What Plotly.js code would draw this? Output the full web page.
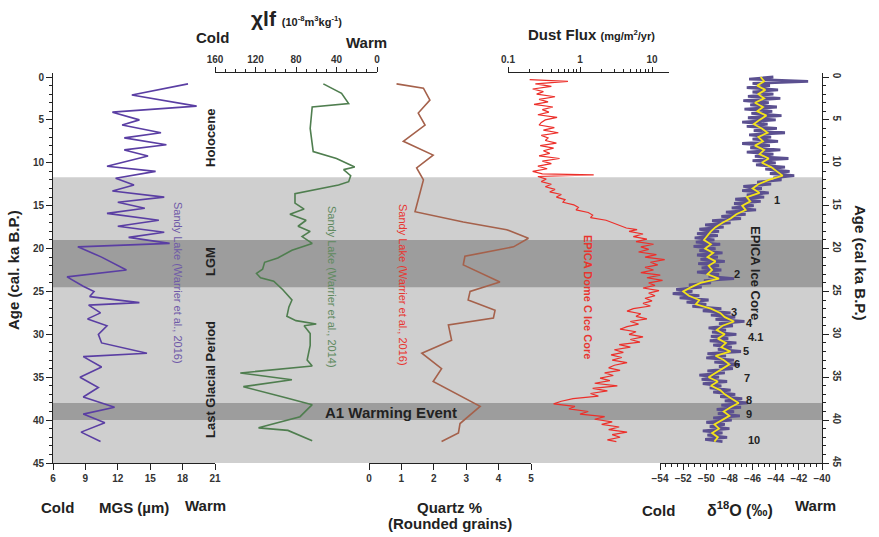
<!DOCTYPE html>
<html><head><meta charset="utf-8">
<script src="https://cdn.plot.ly/plotly-3.0.1.min.js"></script>
<style>html,body{margin:0;padding:0;background:#fff;} #chart{width:879px;height:537px;}</style>
</head><body><div id="chart"></div>
<script>
// ---------- DATA ----------
// Mean grain size (MGS, µm), Sandy Lake (Warrier et al., 2016)
const mgsAge = [0.8,2.1,3.4,4.1,5.0,5.6,6.5,7.1,7.9,8.5,9.2,10.4,11.0,11.8,12.6,13.3,14.0,14.6,15.3,15.9,16.7,17.4,18.1,18.7,19.4,19.8,21.0,22.5,23.3,24.4,25.0,25.6,26.3,26.6,27.5,28.2,29.0,30.0,31.0,32.2,32.6,33.8,35.0,36.2,37.3,38.5,39.3,40.3,41.4,42.5];
const mgs    = [18.5,13.3,19.3,11.5,14.0,12.4,16.0,12.6,16.5,12.6,14.8,11.0,15.5,11.8,13.5,11.5,16.3,12.0,14.5,11.0,15.8,12.0,16.3,13.0,16.8,8.3,10.5,12.8,7.3,8.8,9.8,9.4,14.0,9.3,10.4,9.2,11.0,10.2,10.5,14.7,8.8,10.5,8.5,10.2,8.8,11.7,8.8,10.8,8.6,10.4];

// Magnetic susceptibility chi-lf, Sandy Lake (Warrier et al., 2014)
const chiAge = [0.8,1.9,3.1,3.5,6.0,8.7,9.5,10.5,10.8,11.5,12.2,12.6,13.6,14.7,15.4,16.0,16.7,17.4,18.0,18.6,19.4,20.2,21.1,21.6,22.4,22.9,23.4,23.8,24.8,26.0,26.8,27.9,28.4,28.8,29.0,29.9,31.3,33.0,33.7,34.5,35.3,36.1,37.4,38.2,39.6,40.9,41.2,42.4];
const chi    = [53,35,28,64,66,63,40,22,33,26,28,38,81,81,72,86,70,78,66,74,64,84,98,111,113,119,115,102,93,84,87,89,80,60,72,66,66,69,64,135,84,132,90,64,76,117,88,64];

// Quartz % (rounded grains), Sandy Lake (Warrier et al., 2016)
const qAge = [0.8,1.3,2.7,4.2,5.6,7.5,9.1,10.6,12.0,15.7,16.9,17.8,18.8,19.8,20.9,21.9,23.9,25.0,26.0,27.2,28.1,28.9,30.7,32.2,34.0,35.5,38.4,40.4,41.5,42.5];
const quartz = [0.85,1.68,1.88,1.52,1.73,1.06,1.98,1.47,1.68,1.42,2.91,4.25,4.92,4.46,2.96,2.91,4.04,3.12,3.06,3.89,3.84,2.45,2.55,1.63,2.24,1.98,3.43,2.81,2.76,2.24];

// Dust flux (mg/m2/yr), EPICA Dome C
const dustAge = [0.3,0.5,0.8,1.1,1.4,1.7,2.0,2.3,2.6,2.9,3.2,3.5,3.8,4.1,4.4,4.7,5.0,5.3,5.6,5.9,6.2,6.5,6.8,7.1,7.4,7.7,8.0,8.3,8.6,8.9,9.2,9.5,9.8,10.1,10.4,10.7,11.0,11.3,11.4,11.6,11.9,12.2,12.5,12.8,13.1,13.4,13.7,14.0,14.3,14.6,14.9,15.2,15.5,15.8,16.1,16.4,16.7,17.0,17.3,17.6,17.8,18.0,18.3,18.6,18.9,19.2,19.5,19.8,20.1,20.4,20.7,21.0,21.3,21.6,21.9,22.2,22.5,22.8,23.1,23.4,23.7,24.0,24.3,24.6,24.9,25.2,25.5,25.8,26.1,26.4,26.7,27.0,27.3,27.6,27.9,28.2,28.5,28.8,29.1,29.4,29.7,30.0,30.3,30.6,30.9,31.2,31.5,31.8,32.1,32.4,32.7,33.0,33.3,33.6,33.9,34.2,34.5,34.8,35.1,35.4,35.7,36.0,36.3,36.6,36.9,37.2,37.5,37.8,38.1,38.4,38.7,39.0,39.3,39.6,39.9,40.2,40.5,40.8,41.1,41.4,41.7,42.0,42.3,42.5];
const dust    = [0.20,0.68,0.24,0.40,0.22,0.31,0.25,0.45,0.27,0.36,0.23,0.42,0.30,0.37,0.26,0.48,0.33,0.29,0.27,0.44,0.31,0.50,0.29,0.36,0.33,0.47,0.28,0.43,0.31,0.38,0.27,0.52,0.30,0.40,0.26,0.35,0.22,0.30,1.55,0.26,0.34,0.29,0.40,0.33,0.45,0.38,0.55,0.47,0.62,0.58,0.82,0.95,0.88,1.3,1.5,1.4,2.3,2.8,3.5,4.4,6.2,4.8,7.5,5.5,8.5,6.0,10.5,7.0,9.0,6.5,11.5,8.0,15.0,9.5,12.0,8.0,10.5,7.0,13.0,8.5,14.0,9.0,11.0,7.5,12.5,9.0,11.0,8.0,10.0,7.5,9.5,5.5,4.5,7.0,6.0,8.5,5.0,6.5,4.5,3.6,6.0,4.8,7.5,5.0,6.8,3.5,5.0,3.0,4.0,2.7,3.8,2.8,4.5,3.0,2.5,3.6,2.2,2.9,1.9,2.6,1.6,3.3,1.5,2.4,1.4,1.8,0.8,0.55,0.43,0.85,0.7,1.3,1.0,2.2,1.6,2.8,2.0,3.5,2.5,4.5,2.8,3.6,2.4,3.2];

// EPICA ice core d18O (permil): raw (purple) and smoothed (yellow)
const d18oRawAge = [0,0.25,0.5,0.75,1,1.25,1.5,1.75,2,2.25,2.5,2.75,3,3.25,3.5,3.75,4,4.25,4.5,4.75,5,5.25,5.5,5.75,6,6.25,6.5,6.75,7,7.25,7.5,7.75,8,8.25,8.5,8.75,9,9.25,9.5,9.75,10,10.25,10.5,10.75,11,11.25,11.5,11.75,12,12.25,12.5,12.75,13,13.25,13.5,13.75,14,14.25,14.5,14.75,15,15.25,15.5,15.75,16,16.25,16.5,16.75,17,17.25,17.5,17.75,18,18.25,18.5,18.75,19,19.25,19.5,19.75,20,20.25,20.5,20.75,21,21.25,21.5,21.75,22,22.25,22.5,22.75,23,23.25,23.5,23.75,24,24.25,24.5,24.75,25,25.25,25.5,25.75,26,26.25,26.5,26.75,27,27.25,27.5,27.75,28,28.25,28.5,28.75,29,29.25,29.5,29.75,30,30.25,30.5,30.75,31,31.25,31.5,31.75,32,32.25,32.5,32.75,33,33.25,33.5,33.75,34,34.25,34.5,34.75,35,35.25,35.5,35.75,36,36.25,36.5,36.75,37,37.25,37.5,37.75,38,38.25,38.5,38.75,39,39.25,39.5,39.75,40,40.25,40.5,40.75,41,41.25,41.5,41.75,42,42.25,42.5];
const d18oRaw = [-44.2,-46.3,-41.2,-46.0,-44.5,-46.5,-43.8,-46.0,-44.2,-46.4,-43.6,-46.8,-44.6,-46.2,-43.9,-46.7,-44.3,-46.1,-43.5,-46.4,-44.0,-46.9,-44.7,-46.5,-43.9,-45.9,-43.2,-46.3,-44.4,-46.0,-43.8,-46.9,-44.5,-46.2,-43.6,-46.5,-44.2,-45.8,-42.9,-46.0,-44.0,-45.7,-43.2,-44.9,-42.8,-44.5,-42.4,-44.2,-43.5,-45.6,-44.4,-46.8,-45.2,-46.9,-44.6,-46.5,-45.0,-47.5,-45.3,-47.6,-45.9,-47.8,-45.7,-48.3,-46.6,-48.7,-47.0,-49.5,-47.9,-50.1,-48.5,-50.6,-48.9,-50.8,-49.0,-51.0,-49.3,-50.9,-48.8,-51.1,-49.2,-50.6,-48.6,-50.8,-49.0,-50.5,-48.4,-50.7,-48.9,-50.4,-48.7,-50.8,-48.9,-49.8,-47.6,-50.2,-49.6,-51.5,-50.4,-52.6,-51.2,-52.9,-50.6,-52.3,-49.8,-51.7,-50.0,-51.2,-48.7,-50.3,-47.9,-49.6,-47.5,-49.2,-46.7,-48.9,-47.7,-49.8,-48.3,-49.5,-47.4,-49.6,-48.1,-49.7,-47.4,-49.4,-47.8,-49.0,-47.0,-49.9,-48.3,-50.0,-47.6,-49.3,-47.1,-48.9,-47.7,-49.9,-48.4,-50.6,-48.9,-50.4,-48.2,-50.3,-48.7,-49.7,-47.9,-49.4,-47.5,-48.8,-46.9,-48.4,-46.4,-48.7,-47.0,-49.1,-47.6,-49.0,-47.1,-49.4,-47.8,-50.0,-48.4,-49.7,-48.0,-50.3,-48.6,-49.9,-48.2,-50.1,-48.6];
const d18oSmAge = [0,0.5,1,1.5,2,2.5,3,3.5,4,4.5,5,5.5,6,6.5,7,7.5,8,8.5,9,9.5,10,10.5,11,11.5,12,12.5,13,13.5,14,14.5,15,15.5,16,16.5,17,17.5,18,18.5,19,19.5,20,20.5,21,21.5,22,22.5,23,23.5,24,24.5,25,25.5,26,26.5,27,27.5,28,28.5,29,29.5,30,30.5,31,31.5,32,32.5,33,33.5,34,34.5,35,35.5,36,36.5,37,37.5,38,38.5,39,39.5,40,40.5,41,41.5,42,42.5];
const d18oSm = [-45.3,-45.0,-45.6,-44.9,-45.5,-45.0,-45.8,-45.1,-45.6,-44.8,-45.4,-45.9,-45.2,-44.7,-45.5,-45.1,-45.8,-45.0,-45.4,-44.6,-45.2,-44.4,-43.9,-43.4,-44.6,-45.5,-46.0,-45.4,-46.5,-46.2,-46.9,-46.6,-47.4,-47.9,-48.6,-49.2,-49.6,-49.9,-50.2,-49.6,-50.1,-49.4,-49.9,-49.2,-49.8,-49.5,-49.9,-48.9,-50.5,-51.3,-52.0,-51.5,-50.6,-50.9,-49.6,-48.8,-48.4,-47.6,-48.6,-49.1,-48.4,-49.0,-48.3,-48.7,-47.9,-49.2,-48.5,-48.0,-48.6,-49.3,-49.8,-49.0,-49.6,-48.8,-48.4,-47.8,-47.2,-47.9,-48.5,-48.0,-48.7,-49.3,-48.9,-49.5,-49.0,-49.3];

// Event labels on the d18O record
const eventLabels = ['1','2','3','4','4.1','5','6','7','8','9','10'];
const eventD18O   = [-44.3,-47.8,-48.05,-46.7,-46.6,-47.0,-47.8,-46.9,-46.75,-46.75,-46.6];
const eventAge    = [14.3,23.0,27.4,28.7,30.3,32.0,33.4,35.1,37.6,39.3,42.3];

// Climate periods (ka)
const lightBand = [11.7, 45];
const darkBands = [[19, 24.5], [38, 40]];

// Tick labels
const ageTicks = [0,5,10,15,20,25,30,35,40,45];
const mgsTicks = [6,9,12,15,18,21];
const chiTicks = [0,40,80,120,160];
const quartzTicks = [0,1,2,3,4,5];
const dustTicks = [0.1,1,10];
const dustMinor = [0.2,0.3,0.4,0.5,0.6,0.7,0.8,0.9,2,3,4,5,6,7,8,9];
const d18oTicks = [-54,-52,-50,-48,-46,-44,-42,-40];

// ---------- LAYOUT ----------
const L=53, R=822, T=73, B=463;
const PX = x => (x-L)/(R-L);
const PY = y => (B-y)/(B-T);
const FONT = 'Liberation Sans, Arial, sans-serif';
const TXT = '#222';
const tickFont = {family: FONT, size: 10, color: '#333', weight: 'bold'};

function xax(dom, rng, side, vals, extra){
  return Object.assign({
    domain: [PX(dom[0]), PX(dom[1])], range: rng, side: side, anchor: 'y',
    tickmode: 'array', tickvals: vals, ticks: 'outside', ticklen: 6, tickwidth: 1,
    tickcolor: '#222', showline: true, linecolor: '#222', linewidth: 1,
    showgrid: false, zeroline: false, tickfont: tickFont, fixedrange: true
  }, extra || {});
}

const layout = {
  width: 879, height: 537,
  margin: {l: L, r: 879-R, t: T, b: 537-B, pad: 0},
  paper_bgcolor: '#ffffff', plot_bgcolor: 'rgba(0,0,0,0)',
  showlegend: false,
  font: {family: FONT, color: TXT},
  xaxis:  xax([53,215], [6,21], 'bottom', mgsTicks),
  xaxis2: xax([215,377], [160,0], 'top', chiTicks, {ticklen: 5,
            minor: {dtick: 10, ticklen: 3, ticks: 'outside', tickcolor: '#222', showgrid: false}}),
  xaxis3: xax([369,531], [0,5], 'bottom', quartzTicks),
  xaxis4: xax([508,669], [-1, 1.236], 'top', dustTicks, {type: 'log', ticklen: 5,
            ticktext: ['0.1','1','10'],
            minor: {tickmode: 'array', tickvals: dustMinor, ticklen: 3, ticks: 'outside', tickcolor: '#222', showgrid: false}}),
  xaxis5: xax([660,822], [-54,-40], 'bottom', d18oTicks, {anchor: 'y2',
            minor: {dtick: 0.5, ticklen: 3, ticks: 'outside', tickcolor: '#222', showgrid: false}}),
  yaxis: {domain: [0,1], range: [45, -0.466], anchor: 'x', side: 'left',
          tickmode: 'array', tickvals: ageTicks, ticks: 'outside', ticklen: 6, tickcolor: '#222',
          minor: {dtick: 1, ticklen: 3, ticks: 'outside', tickcolor: '#222', showgrid: false},
          showline: true, linecolor: '#222', showgrid: false, zeroline: false, tickfont: tickFont, fixedrange: true},
  yaxis2: {domain: [0,1], range: [45, -0.466], anchor: 'x5', side: 'right',
          tickmode: 'array', tickvals: ageTicks, ticks: 'outside', ticklen: 6, tickcolor: '#222', tickangle: 90,
          minor: {dtick: 1, ticklen: 3, ticks: 'outside', tickcolor: '#222', showgrid: false},
          showline: true, linecolor: '#222', showgrid: false, zeroline: false, tickfont: tickFont, fixedrange: true},
  shapes: [],
  annotations: []
};

layout.shapes.push({type: 'rect', xref: 'paper', yref: 'y', x0: 0, x1: 1, y0: lightBand[0], y1: lightBand[1],
  fillcolor: '#cfcfcf', line: {width: 0}, layer: 'below'});
darkBands.forEach(b => layout.shapes.push({type: 'rect', xref: 'paper', yref: 'y', x0: 0, x1: 1, y0: b[0], y1: b[1],
  fillcolor: '#9d9d9d', line: {width: 0}, layer: 'below'}));

function ann(text, x, y, size, opts){
  layout.annotations.push(Object.assign({
    text: text, xref: 'paper', yref: 'paper', x: PX(x), y: PY(y),
    xanchor: 'center', yanchor: 'middle', showarrow: false,
    font: {family: FONT, size: size, color: TXT}
  }, opts || {}));
}

// axis titles
ann('<b>Age (cal. ka B.P.)</b>', 13, 270, 15, {textangle: -90});
ann('<b>Age (cal ka B.P.)</b>', 861, 263, 15, {textangle: 90});
ann('<b>χlf</b> <span style="font-size:11px"><b>(10<sup>-8</sup>m<sup>3</sup>kg<sup>-1</sup>)</b></span>', 296, 18, 21);
ann('<b>Cold</b>', 212, 37, 15);
ann('<b>Warm</b>', 366, 42, 15);
ann('<b>Dust Flux</b> <span style="font-size:11px"><b>(mg/m<sup>2</sup>/yr)</b></span>', 591, 35, 15);
ann('<b>Cold</b>', 57, 507, 15);
ann('<b>MGS (µm)</b>', 134, 507, 15);
ann('<b>Warm</b>', 205, 505, 15);
ann('<b>Quartz %</b>', 449, 507, 15);
ann('<b>(Rounded grains)</b>', 450, 523, 15);
ann('<b>Cold</b>', 658, 510, 15);
ann('<b>δ<sup>18</sup>O (‰)</b>', 740, 509, 16);
ann('<b>Warm</b>', 815, 505, 15);

// period labels
ann('<b>Holocene</b>', 210, 138, 13, {textangle: -90});
ann('<b>LGM</b>', 210, 262, 13, {textangle: -90});
ann('<b>Last Glacial Period</b>', 210, 380, 13, {textangle: -90});
ann('A1 Warming Event', 391, 412, 15, {font: {family: FONT, size: 15, color: TXT, weight: 'bold'}});

// record labels
ann('Sandy Lake (Warrier et al., 2016)', 178, 283, 11, {textangle: 90, font: {family: FONT, size: 11, color: '#6f5aa8'}});
ann('Sandy Lake (Warrier et al., 2014)', 332, 287, 11, {textangle: 90, font: {family: FONT, size: 11, color: '#5f8a5f'}});
ann('Sandy Lake (Warrier et al., 2016)', 403, 285, 11, {textangle: 90, font: {family: FONT, size: 11, color: '#e8352f'}});
ann('<b>EPICA Dome C Ice Core</b>', 588, 297, 11, {textangle: 90, font: {family: FONT, size: 11, color: '#e8352f'}});
ann('<b>EPICA Ice Core</b>', 756, 273, 13, {textangle: 90});

// event numbers on d18O
eventLabels.forEach((t,i) => layout.annotations.push({
  text: '<b>'+t+'</b>', xref: 'x5', yref: 'y2', x: eventD18O[i], y: eventAge[i],
  xanchor: 'left', yanchor: 'middle', showarrow: false,
  font: {family: FONT, size: 11, color: TXT}
}));

// ---------- TRACES ----------
const traces = [
  {x: mgs, y: mgsAge, xaxis: 'x', yaxis: 'y', mode: 'lines', line: {color: '#5a3ea3', width: 1.6}},
  {x: chi, y: chiAge, xaxis: 'x2', yaxis: 'y', mode: 'lines', line: {color: '#4f7e4f', width: 1.6}},
  {x: quartz, y: qAge, xaxis: 'x3', yaxis: 'y', mode: 'lines', line: {color: '#a5614b', width: 1.6}},
  {x: dust, y: dustAge, xaxis: 'x4', yaxis: 'y', mode: 'lines', line: {color: '#ec2f2a', width: 1.2}},
  {x: d18oRaw, y: d18oRawAge, xaxis: 'x5', yaxis: 'y2', mode: 'lines', line: {color: '#5b5090', width: 2.8}},
  {x: d18oSm, y: d18oSmAge, xaxis: 'x5', yaxis: 'y2', mode: 'lines', line: {color: '#f3e31a', width: 1.8}}
];

Plotly.newPlot('chart', traces, layout, {staticPlot: true, displayModeBar: false});
</script>
</body></html>
